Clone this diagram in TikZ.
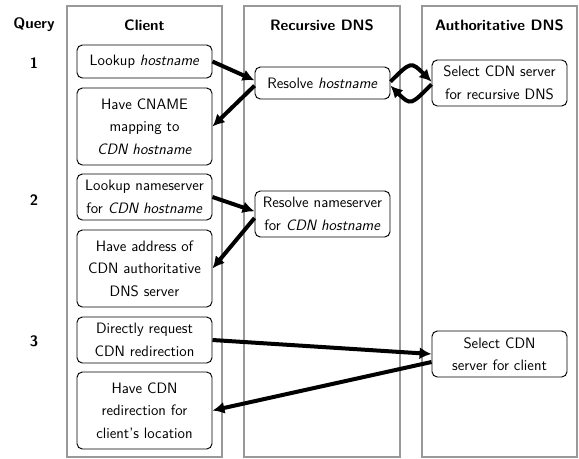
\documentclass[tikz,border=0pt]{standalone}
\usetikzlibrary{arrows.meta}
\begin{document}
\begin{tikzpicture}[x=0.75pt,y=-0.75pt,
  lane/.style={draw=black!40, line width=0.8pt},
  box/.style={draw, rounded corners=4pt, line width=0.7pt, align=center,
    minimum width=101.25pt, inner sep=1pt,
    font=\fontsize{11.3}{16.9}\selectfont\sffamily},
  hdr/.style={font=\fontsize{11.3}{13}\selectfont\sffamily\bfseries},
  flow/.style={line width=3pt, -{Latex[length=9pt,width=9pt]}}
]
\useasboundingbox (0,0) rectangle (579,458);

% swim lanes
\draw[lane] (67,6) rectangle (222,457);
\draw[lane] (244,6) rectangle (400,457);
\draw[lane] (422,6) rectangle (577,457);

% column headers
\node[hdr] (hq) at (34,25) {Query};
\node[hdr] (hc) at (144.5,25) {Client};
\node[hdr] (hr) at (322,25) {Recursive DNS};
\node[hdr] (ha) at (499.5,25) {Authoritative DNS};

% query numbers
\node[hdr] (q1) at (34,63) {1};
\node[hdr] (q2) at (34,200) {2};
\node[hdr] (q3) at (34,341) {3};

% client steps
\node[box, minimum height=24.75pt] (c1) at (144.5,61.5) {Lookup \textsl{hostname}};
\node[box, minimum height=57.75pt] (c2) at (144.5,126.5) {Have CNAME\\mapping to\\\textsl{CDN hostname}};
\node[box, minimum height=34.5pt] (c3) at (144.5,197) {Lookup nameserver\\for \textsl{CDN hostname}};
\node[box, minimum height=57.75pt] (c4) at (144.5,268.5) {Have address of\\CDN authoritative\\DNS server};
\node[box, minimum height=34.5pt] (c5) at (144.5,340) {Directly request\\CDN redirection};
\node[box, minimum height=57.75pt] (c6) at (144.5,410.5) {Have CDN\\redirection for\\client's location};

% recursive resolver steps
\node[box, minimum height=24pt] (r1) at (322.5,83) {Resolve \textsl{hostname}};
\node[box, minimum height=34.5pt] (r2) at (322.5,214) {Resolve nameserver\\for \textsl{CDN hostname}};

% authoritative server steps
\node[box, minimum height=34.5pt] (a1) at (499.5,83) {Select CDN server\\for recursive DNS};
\node[box, minimum height=34.5pt] (a2) at (499.5,354) {Select CDN\\server for client};

% message flow
\draw[flow] (c1.east) -- ([yshift=2pt]r1.west);
\draw[flow] ([yshift=-2pt]r1.west) -- (c2.east);
\draw[flow] ([yshift=1pt]r1.east) to[out=45,in=135,looseness=1.8] ([yshift=1pt]a1.west);
\draw[flow] ([yshift=-1pt]a1.west) to[out=-135,in=-45,looseness=1.8] ([yshift=-2pt]r1.east);
\draw[flow] (c3.east) -- ([yshift=2pt]r2.west);
\draw[flow] ([yshift=-3pt]r2.west) -- (c4.east);
\draw[flow] (c5.east) -- (a2.west);
\draw[flow] ([yshift=-6pt]a2.west) -- (c6.east);
\end{tikzpicture}
\end{document}
